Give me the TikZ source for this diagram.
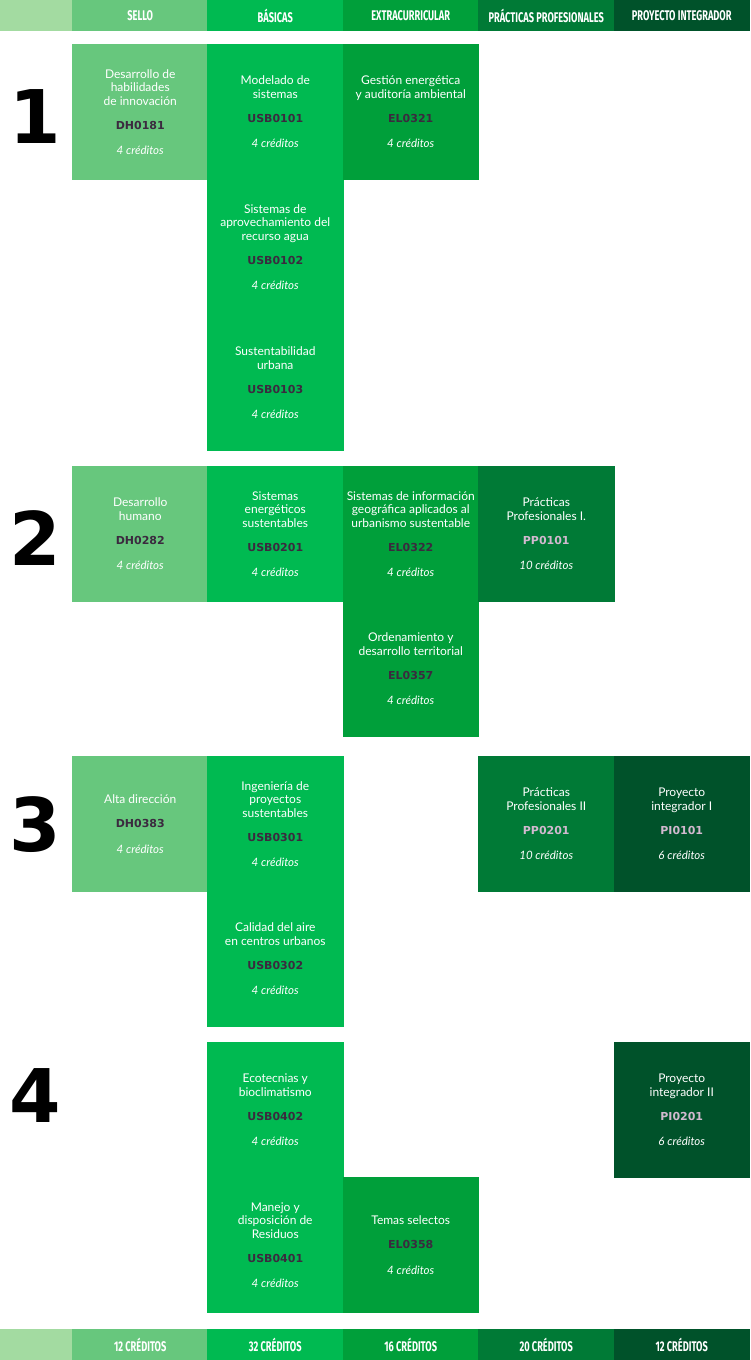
\documentclass[tikz,border=0pt]{standalone}
\usepackage{fontspec}
\usepackage{graphicx}
\setmainfont{Lato}
\newfontfamily\codefont{DejaVu Sans}
\newfontfamily\headfont{Fira Sans}
\newfontfamily\numfont{DejaVu Sans}

\definecolor{cBase}{HTML}{A3DBA1}
\definecolor{cSello}{HTML}{67C77D}
\definecolor{cBasicas}{HTML}{00BA51}
\definecolor{cExtra}{HTML}{009F3A}
\definecolor{cPracticas}{HTML}{007A36}
\definecolor{cProyecto}{HTML}{00522A}
\definecolor{codOscuro}{HTML}{3B2A3F}
\definecolor{codClaro}{HTML}{D2B9CF}

% materia: titulo, clave, creditos, color de la clave
\newcommand{\curso}[4]{#1\\[10.5pt]{\codefont\bfseries\fontsize{11}{13.5}\selectfont\color{#4}#2}\\[12pt]{\itshape\fontsize{11.5}{13.5}\selectfont #3 créditos}}
\newcommand{\cabtexto}[1]{\scalebox{0.66}[1]{\headfont\bfseries\fontsize{14}{14}\selectfont #1}}

\tikzset{
  celda/.style={anchor=north west, inner sep=0pt, outer sep=0pt,
    minimum width=136.5pt, minimum height=136pt, align=center,
    text=white, font=\fontsize{12}{13.5}\selectfont},
  cabecera/.style={anchor=north west, inner sep=0pt, outer sep=0pt,
    minimum width=136.5pt, minimum height=31pt, text=white},
  anio/.style={font=\numfont\bfseries\fontsize{74}{74}\selectfont, text=black}
}

\begin{document}
\begin{tikzpicture}[x=1pt, y=-1pt]
        \useasboundingbox (0,0) rectangle (750,1360);
        % Cabecera
        \node[cabecera, fill=cBase, minimum width=72pt] (hBase) at (0,0) {};
        \node[cabecera, fill=cSello] (hSello) at (72,0) {\cabtexto{SELLO}};
        \node[cabecera, fill=cBasicas] (hBasicas) at (207,0) {\cabtexto{BÁSICAS}};
        \node[cabecera, fill=cExtra] (hExtra) at (342.5,0) {\cabtexto{EXTRACURRICULAR}};
        \node[cabecera, fill=cPracticas] (hPracticas) at (478,0) {\cabtexto{PRÁCTICAS PROFESIONALES}};
        \node[cabecera, fill=cProyecto] (hProyecto) at (613.5,0) {\cabtexto{PROYECTO INTEGRADOR}};
        % Semestre 1
        \node[anio] (s1) at (35,117) {1};
        \node[celda, fill=cSello] (dh0181) at (72,44)
            {\curso{Desarrollo de\\habilidades\\de innovación}{DH0181}{4}{codOscuro}};
        \node[celda, fill=cBasicas] (usb0101) at (207,44)
            {\curso{Modelado de\\sistemas}{USB0101}{4}{codOscuro}};
        \node[celda, fill=cBasicas] (usb0102) at (207,179)
            {\curso{Sistemas de\\aprovechamiento del\\recurso agua}{USB0102}{4}{codOscuro}};
        \node[celda, fill=cBasicas] (usb0103) at (207,315)
            {\curso{Sustentabilidad\\urbana}{USB0103}{4}{codOscuro}};
        \node[celda, fill=cExtra] (el0321) at (342.5,44)
            {\curso{Gestión energética\\y auditoría ambiental}{EL0321}{4}{codOscuro}};
        % Semestre 2
        \node[anio] (s2) at (35,538) {2};
        \node[celda, fill=cSello] (dh0282) at (72,466)
            {\curso{Desarrollo\\humano}{DH0282}{4}{codOscuro}};
        \node[celda, fill=cBasicas] (usb0201) at (207,466)
            {\curso{Sistemas\\energéticos\\sustentables}{USB0201}{4}{codOscuro}};
        \node[celda, fill=cExtra] (el0322) at (342.5,466)
            {\curso{Sistemas de información\\geográfica aplicados al\\urbanismo sustentable}{EL0322}{4}{codOscuro}};
        \node[celda, fill=cExtra] (el0357) at (342.5,601)
            {\curso{Ordenamiento y\\desarrollo territorial}{EL0357}{4}{codOscuro}};
        \node[celda, fill=cPracticas] (pp0101) at (478,466)
            {\curso{Prácticas\\Profesionales I.}{PP0101}{10}{codClaro}};
        % Semestre 3
        \node[anio] (s3) at (35,825) {3};
        \node[celda, fill=cSello] (dh0383) at (72,756)
            {\curso{Alta dirección}{DH0383}{4}{codOscuro}};
        \node[celda, fill=cBasicas] (usb0301) at (207,756)
            {\curso{Ingeniería de\\proyectos\\sustentables}{USB0301}{4}{codOscuro}};
        \node[celda, fill=cBasicas] (usb0302) at (207,891)
            {\curso{Calidad del aire\\en centros urbanos}{USB0302}{4}{codOscuro}};
        \node[celda, fill=cPracticas] (pp0201) at (478,756)
            {\curso{Prácticas\\Profesionales II}{PP0201}{10}{codClaro}};
        \node[celda, fill=cProyecto] (pi0101) at (613.5,756)
            {\curso{Proyecto\\integrador I}{PI0101}{6}{codClaro}};
        % Semestre 4
        \node[anio] (s4) at (35,1096) {4};
        \node[celda, fill=cBasicas] (usb0402) at (207,1042)
            {\curso{Ecotecnias y\\bioclimatismo}{USB0402}{4}{codOscuro}};
        \node[celda, fill=cBasicas] (usb0401) at (207,1177)
            {\curso{Manejo y\\disposición de\\Residuos}{USB0401}{4}{codOscuro}};
        \node[celda, fill=cExtra] (el0358) at (342.5,1177)
            {\curso{Temas selectos}{EL0358}{4}{codOscuro}};
        \node[celda, fill=cProyecto] (pi0201) at (613.5,1042)
            {\curso{Proyecto\\integrador II}{PI0201}{6}{codClaro}};
        % Totales
        \node[cabecera, fill=cBase, minimum width=72pt] (tBase) at (0,1329) {};
        \node[cabecera, fill=cSello] (tSello) at (72,1329) {\cabtexto{12 CRÉDITOS}};
        \node[cabecera, fill=cBasicas] (tBasicas) at (207,1329) {\cabtexto{32 CRÉDITOS}};
        \node[cabecera, fill=cExtra] (tExtra) at (342.5,1329) {\cabtexto{16 CRÉDITOS}};
        \node[cabecera, fill=cPracticas] (tPracticas) at (478,1329) {\cabtexto{20 CRÉDITOS}};
        \node[cabecera, fill=cProyecto] (tProyecto) at (613.5,1329) {\cabtexto{12 CRÉDITOS}};
\end{tikzpicture}
\end{document}
